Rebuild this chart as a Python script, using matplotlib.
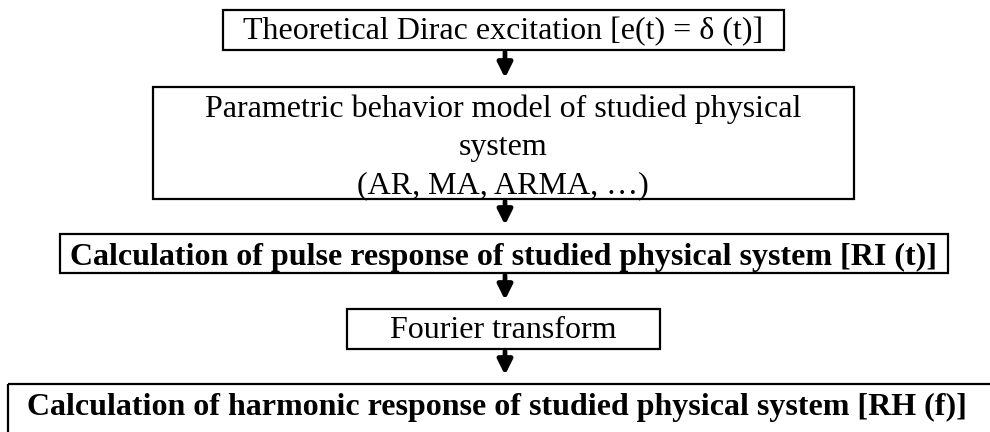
import matplotlib.pyplot as plt
from matplotlib.patches import Rectangle

# flowchart steps (text, bold?)
steps = [
    "Theoretical Dirac excitation [e(t) = δ (t)]",
    "Parametric behavior model of studied physical\nsystem\n(AR, MA, ARMA, …)",
    "Calculation of pulse response of studied physical system [RI (t)]",
    "Fourier transform",
    "Calculation of harmonic response of studied physical system [RH (f)]",
]
bold = [False, False, True, False, True]

# box geometry in pixels: (left, top, right, bottom)
boxes = [
    (223, 10, 784, 50),
    (153, 87, 854, 199),
    (60, 234, 948, 273),
    (347, 309, 660, 349),
    (8, 384, 1000, 445),
]
text_x = [503, 503, 503, 503, 497]
text_y = [32, 147, 257, 331, 407]

fig = plt.figure(figsize=(9.9, 4.32), dpi=100)
ax = fig.add_axes([0, 0, 1, 1])
ax.set_xlim(0, 990)
ax.set_ylim(432, 0)
ax.axis('off')

for i, (l, t, r, b) in enumerate(boxes):
    ax.add_patch(Rectangle((l, t), r - l, b - t, fill=False, lw=1.6,
                           ec='black', clip_on=False))
    ax.text(text_x[i], text_y[i], steps[i], ha='center', va='center',
            fontsize=23, family='Liberation Serif',
            fontweight='bold' if bold[i] else 'normal',
            linespacing=1.42)

# arrows between boxes
for i in range(len(boxes) - 1):
    y0 = boxes[i][3] + 2
    y1 = boxes[i + 1][1] - 9
    ax.annotate('', xy=(505, y1), xytext=(505, y0),
                arrowprops=dict(arrowstyle='-|>', lw=3.4, color='black',
                                mutation_scale=22, shrinkA=0, shrinkB=0))

fig.savefig('out.png', dpi=100)
